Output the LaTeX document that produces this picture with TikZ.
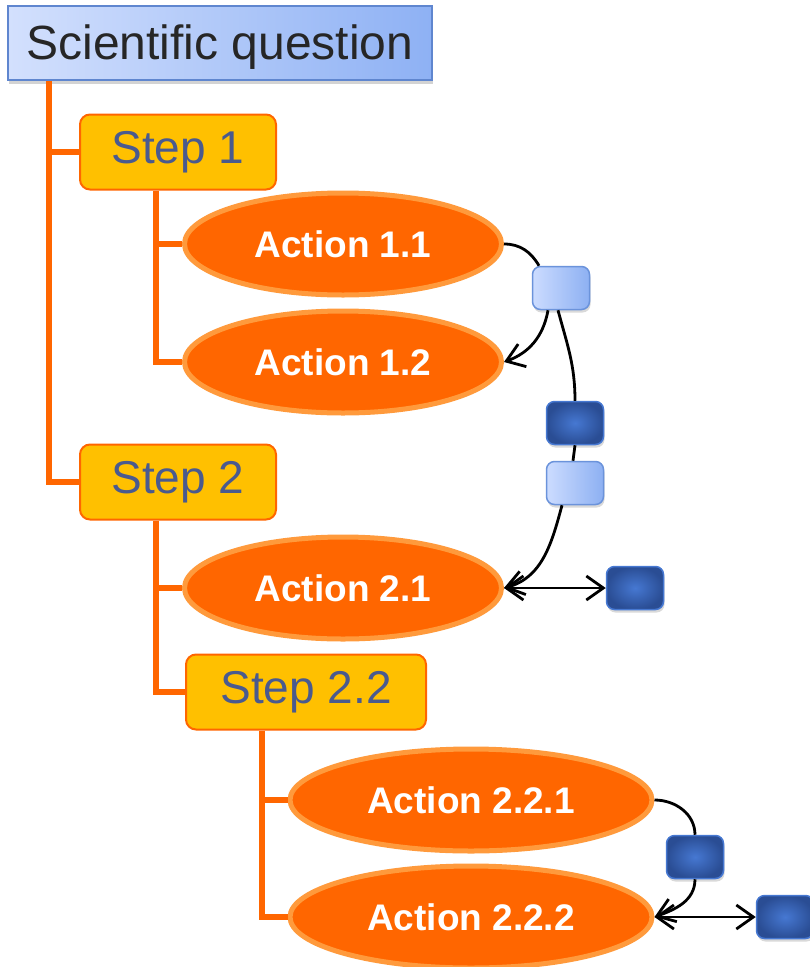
\documentclass[tikz,border=0pt]{standalone}
\usepackage{fontspec}
\setmainfont{Liberation Sans}
\usetikzlibrary{shapes.geometric,shadows,arrows.meta}

\definecolor{branchorange}{HTML}{FF6600}
\definecolor{rimorange}{HTML}{FF9A3C}
\definecolor{stepfill}{HTML}{FFC000}
\definecolor{steptext}{HTML}{4A5A8E}
\definecolor{qlight}{HTML}{D3E0FD}
\definecolor{qdark}{HTML}{8EB1F4}
\definecolor{qrim}{HTML}{5F86CF}
\definecolor{boxlight}{HTML}{CCDCFF}
\definecolor{boxmid}{HTML}{8DB0F2}
\definecolor{boxdeep}{HTML}{4678D2}
\definecolor{boxnavy}{HTML}{2A4D94}

\tikzset{
  question/.style={draw=qrim, line width=2pt, left color=qlight, right color=qdark,
    minimum width=424pt, minimum height=74pt, text=black!85, text depth=2pt,
    font=\fontsize{48}{52}\selectfont,
    drop shadow={shadow xshift=1pt, shadow yshift=-4pt, opacity=0.35}},
  stepbox/.style={draw=branchorange, line width=2pt, fill=stepfill, rounded corners=10pt,
    minimum height=75pt, text=steptext, font=\fontsize{46}{50}\selectfont},
  action/.style={ellipse, draw=rimorange, line width=5pt, fill=branchorange, inner sep=0pt,
    minimum height=102pt, text=white, font=\bfseries\fontsize{37}{42}\selectfont},
  lightbox/.style={draw=boxdeep!80, line width=1.5pt, rounded corners=8pt,
    shading=axis, shading angle=45, left color=boxlight, right color=boxmid,
    minimum width=57pt, minimum height=43pt,
    drop shadow={shadow xshift=1pt, shadow yshift=-3pt, opacity=0.3}},
  darkbox/.style={draw=boxdeep, line width=1.5pt, rounded corners=8pt,
    inner color=boxdeep, outer color=boxnavy, minimum width=57pt, minimum height=43pt,
    drop shadow={shadow xshift=1pt, shadow yshift=-3pt, opacity=0.3}},
  branch/.style={draw=branchorange, line width=6pt},
  link/.style={draw=black, line width=2.8pt},
  tip/.style={arrows={-Straight Barb[length=17pt,width=24pt]}},
  twotips/.style={arrows={Straight Barb[length=17pt,width=24pt]-Straight Barb[length=17pt,width=24pt]}}
}

\begin{document}
\begin{tikzpicture}[x=1pt, y=-1pt]
  \useasboundingbox (0,0) rectangle (810,967);

  \node[question] (sq) at (220,43) {Scientific question};

  \node[stepbox, minimum width=196pt] (s1) at (178,152) {Step 1};
  \node[stepbox, minimum width=196pt] (s2) at (178,482) {Step 2};
  \node[stepbox, minimum width=240pt] (s22) at (306,692) {Step 2.2};

  \node[action, minimum width=317pt] (a11) at (343,244) {Action 1.1};
  \node[action, minimum width=317pt] (a12) at (343,362) {Action 1.2};
  \node[action, minimum width=317pt] (a21) at (343,588) {Action 2.1};
  \node[action, minimum width=362pt] (a221) at (471,800) {Action 2.2.1};
  \node[action, minimum width=362pt] (a222) at (471,917) {Action 2.2.2};

  \node[lightbox] (ba) at (561,288) {};
  \node[darkbox] (bb) at (575,423) {};
  \node[lightbox] (bc) at (575,483) {};
  \node[darkbox] (bd) at (635,588) {};
  \node[darkbox] (be) at (695,857) {};
  \node[darkbox] (bf) at (785,917) {};

  % tree branches
  \draw[branch] ([xshift=42pt]sq.south west) |- (s1.west);
  \draw[branch] ([xshift=42pt]sq.south west) |- (s2.west);
  \draw[branch] ([xshift=77pt]s1.south west) |- (a11.west);
  \draw[branch] ([xshift=77pt]s1.south west) |- (a12.west);
  \draw[branch] ([xshift=77pt]s2.south west) |- (a21.west);
  \draw[branch] ([xshift=77pt]s2.south west) |- (s22.west);
  \draw[branch] ([xshift=77pt]s22.south west) |- (a221.west);
  \draw[branch] ([xshift=77pt]s22.south west) |- (a222.west);

  % links between actions and boxes
  \draw[link] (a11.east) to[out=0, in=120] ([xshift=-22pt]ba.north);
  \draw[link, tip] ([xshift=-13pt]ba.south) to[out=-100, in=20] (a12.east);
  \draw[link] ([xshift=-3pt]ba.south) to[out=-75, in=90] (bb.north);
  \draw[link] (bb.south) -- ([xshift=-2pt]bc.north);
  \draw[link, tip] ([xshift=-13pt]bc.south) to[out=-105, in=15] (a21.east);
  \draw[link, twotips] (a21.east) -- (bd.west);
  \draw[link] (a221.east) to[out=0, in=90] (be.north);
  \draw[link, tip] (be.south) to[out=-90, in=20] (a222.east);
  \draw[link, twotips] (a222.east) -- (bf.west);
\end{tikzpicture}
\end{document}
